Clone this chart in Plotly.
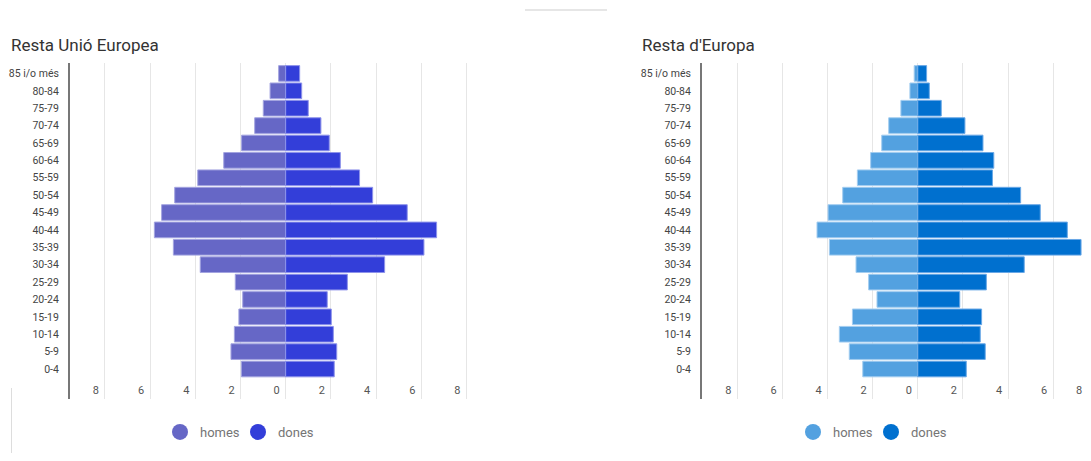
import plotly.graph_objects as go

# the page body has an 8px margin; keep the figure inside the window so nothing overflows
OX, OY = 8, 8
W, H = 1091 - 2 * OX, 461 - 2 * OY

def px(x):
    return (x - OX) / W

def py(y):
    return 1 - (y - OY) / H

ages = ["0-4", "5-9", "10-14", "15-19", "20-24", "25-29", "30-34", "35-39", "40-44",
        "45-49", "50-54", "55-59", "60-64", "65-69", "70-74", "75-79", "80-84", "85 i/o més"]

ue_homes = [1.96, 2.42, 2.27, 2.07, 1.90, 2.23, 3.78, 4.97, 5.81, 5.49, 4.91, 3.89, 2.74, 1.95, 1.37, 0.99, 0.69, 0.31]
ue_dones = [2.15, 2.26, 2.11, 2.02, 1.84, 2.73, 4.38, 6.12, 6.68, 5.38, 3.85, 3.27, 2.42, 1.93, 1.56, 1.00, 0.71, 0.62]
eu_homes = [2.44, 3.04, 3.48, 2.90, 1.81, 2.18, 2.74, 3.92, 4.47, 3.98, 3.33, 2.68, 2.09, 1.60, 1.29, 0.75, 0.35, 0.16]
eu_dones = [2.15, 2.99, 2.77, 2.83, 1.86, 3.04, 4.72, 7.24, 6.63, 5.43, 4.56, 3.31, 3.37, 2.89, 2.09, 1.04, 0.51, 0.39]

tick_vals = [-8, -6, -4, -2, 0, 2, 4, 6, 8]
tick_text = ["8", "6", "4", "2", "0", "2", "4", "6", "8"]

titles = ["Resta Unió Europea", "Resta d'Europa"]
series_names = ["homes", "dones"]

C_UE_H, C_UE_D = "#6667c6", "#333ed9"
C_EU_H, C_EU_D = "#53a1e0", "#0070cf"
L_UE_H, L_UE_D = "#a3a4e0", "#8e93ea"
L_EU_H, L_EU_D = "#a3cdf0", "#6aa8e6"

fig = go.Figure()

def add_pair(homes, dones, ch, cd, lh, ld, xa, ya, leg):
    fig.add_trace(go.Bar(y=ages, x=[-v for v in homes], orientation="h", name=series_names[0],
                         marker=dict(color=ch, line=dict(color=lh, width=1)),
                         xaxis=xa, yaxis=ya, showlegend=False))
    fig.add_trace(go.Bar(y=ages, x=dones, orientation="h", name=series_names[1],
                         marker=dict(color=cd, line=dict(color=ld, width=1)),
                         xaxis=xa, yaxis=ya, showlegend=False))
    for nm, c in zip(series_names, [ch, cd]):
        fig.add_trace(go.Scatter(x=[None], y=[None], mode="markers", name=nm,
                                 marker=dict(symbol="circle", size=16, color=c),
                                 xaxis=xa, yaxis=ya, legend=leg, showlegend=True))

add_pair(ue_homes, ue_dones, C_UE_H, C_UE_D, L_UE_H, L_UE_D, "x", "y", "legend")
add_pair(eu_homes, eu_dones, C_EU_H, C_EU_D, L_EU_H, L_EU_D, "x2", "y2", "legend2")

ydom = [py(399), py(63)]
yrange = [-1.725, 17.6]

xcommon = dict(tickvals=tick_vals, ticktext=tick_text, showgrid=True, gridcolor="#e6e6e6", gridwidth=1,
               zeroline=True, zerolinecolor="#e6e6e6", zerolinewidth=1, showline=False,
               ticklabelposition="inside", ticklabelshift=-9,
               tickfont=dict(size=11, color="#555555"), fixedrange=True)
ycommon = dict(type="category", categoryorder="array", categoryarray=ages, range=yrange,
               showline=True, linecolor="#777777", linewidth=2, showgrid=False, ticks="",
               ticklabelstandoff=7, tickfont=dict(size=10.5, color="#444444"), fixedrange=True)

legcommon = dict(orientation="h", yanchor="middle", xanchor="left", entrywidth=33,
                 font=dict(size=13, color="#757575"), itemsizing="trace", bgcolor="rgba(0,0,0,0)")

fig.update_layout(
    width=W, height=H,
    margin=dict(l=0, r=0, t=0, b=0),
    paper_bgcolor="white", plot_bgcolor="white",
    font=dict(family="Roboto", color="#444444"),
    barmode="relative", bargap=0.1,
    xaxis=dict(domain=[px(70), px(501)], range=[-9.544, 9.53], anchor="y", **xcommon),
    yaxis=dict(domain=ydom, anchor="x", **ycommon),
    xaxis2=dict(domain=[px(702), 1.0], range=[-9.57, (1083 - 917.8) / 22.55], anchor="y2", **xcommon),
    yaxis2=dict(domain=ydom, anchor="x2", **ycommon),
    legend=dict(x=px(160), y=py(432), **legcommon),
    legend2=dict(x=px(793), y=py(432), **legcommon),
    showlegend=True,
)

fig.add_annotation(text=titles[0], xref="paper", yref="paper", x=px(9), y=py(45),
                   xanchor="left", yanchor="middle", showarrow=False,
                   font=dict(size=17, color="#333333", family="Roboto"))
fig.add_annotation(text=titles[1], xref="paper", yref="paper", x=px(640), y=py(45),
                   xanchor="left", yanchor="middle", showarrow=False,
                   font=dict(size=17, color="#333333", family="Roboto"))
# "8" tick label of the right chart, at the window edge
fig.add_annotation(text=tick_text[-1], xref="paper", yref="paper", x=1.0, y=py(390),
                   xanchor="right", yanchor="middle", showarrow=False, borderpad=0,
                   font=dict(size=11, color="#555555", family="Roboto"))

fig.add_shape(type="line", xref="paper", yref="paper", x0=px(525), x1=px(607),
              y0=py(10), y1=py(10), line=dict(color="#e6e6e6", width=2))
fig.add_shape(type="line", xref="paper", yref="paper", x0=px(11.5), x1=px(11.5),
              y0=0, y1=py(388), line=dict(color="#dddddd", width=1))

fig.write_html("out.html")
